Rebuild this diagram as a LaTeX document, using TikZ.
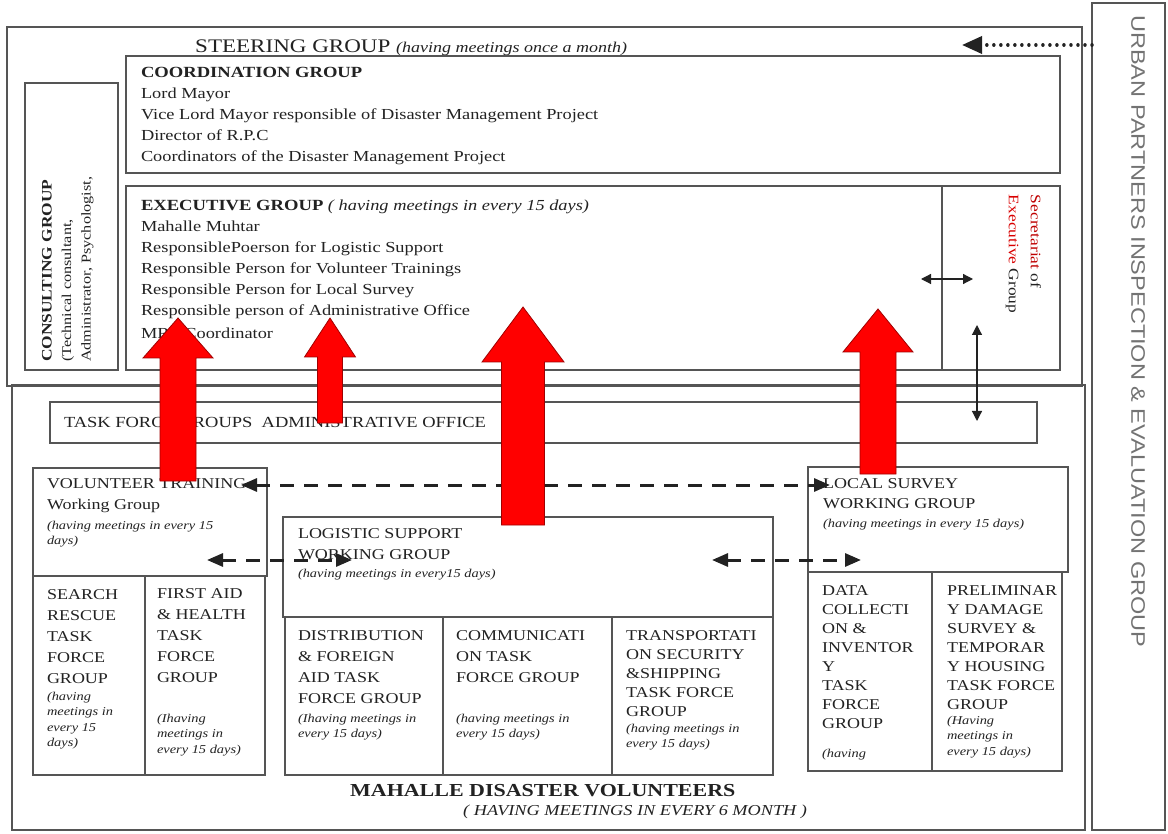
\documentclass[tikz,border=0pt]{standalone}
\usepackage{fontspec}
\setmainfont{Liberation Serif}[FakeStretch=1.2]
\newfontfamily\sansf{Liberation Sans}[FakeStretch=1.2]
\usetikzlibrary{fit,arrows.meta}
\definecolor{ink}{HTML}{222222}
\definecolor{linec}{HTML}{555555}
\definecolor{redline}{HTML}{A00000}
\newcommand\RedUp[6]{%
  \filldraw[redarrow] (#1,#2) -- ({#1+#3},#4) -- ({#1+#5},#4) -- ({#1+#5},#6)
    -- ({#1-#5},#6) -- ({#1-#5},#4) -- ({#1-#3},#4) -- cycle;}
\begin{document}
\begin{tikzpicture}[x=1pt,y=-1pt,
  box/.style={draw=linec, line width=1.5pt, inner sep=0pt, outer sep=0pt},
  txt/.style={anchor=north west, inner sep=0pt, outer sep=0pt, align=left, text=ink},
  fbody/.style={font=\fontsize{15.3}{21}\selectfont},
  fcap/.style={font=\fontsize{15}{21}\selectfont},
  fcapt/.style={font=\fontsize{15}{19}\selectfont},
  fsmall/.style={font=\itshape\fontsize{12}{15.5}\selectfont},
  redarrow/.style={fill=red, draw=redline, line width=0.8pt},
  dasharr/.style={draw=ink, line width=3pt, dash pattern=on 14pt off 10pt,
    {Triangle[length=16pt,width=13pt]}-{Triangle[length=16pt,width=13pt]}},
  thinarr/.style={draw=ink, line width=1.2pt,
    {Triangle[length=10pt,width=10pt]}-{Triangle[length=10pt,width=10pt]}},
]
\useasboundingbox (0,0) rectangle (1168,834);
\fill[white] (0,0) rectangle (1168,834);

% ---------- outer frames ----------
\node[box, fit={(7,27) (1082,386)}] (steer) {};
\node[box, fit={(12,385) (1085,830)}] (mahalle) {};
\node[box, fit={(1092,3) (1165,830)}] (urban) {};
\node[rotate=-90, anchor=west, inner sep=0pt, text=black!55,
      font=\sansf\fontsize{19.6}{19.6}\selectfont] (urbantxt) at (1138,15)
      {URBAN PARTNERS INSPECTION \& EVALUATION GROUP};

% ---------- steering group ----------
\node[anchor=base west, inner sep=0pt, text=ink] (steertxt) at (195,53)
  {\fontsize{19.2}{19.2}\selectfont STEERING GROUP {\itshape\fontsize{15}{15}\selectfont (having meetings once a month)}};

\node[box, fit={(126,56) (1060,173)}] (coord) {};
\node[txt, fbody] (coordtxt) at (141,67)
  {{\bfseries\fontsize{15.5}{21}\selectfont COORDINATION GROUP}\\
   Lord Mayor\\
   Vice Lord Mayor responsible of Disaster Management Project\\
   Director of R.P.C\\
   Coordinators of the Disaster Management Project};

\node[box, fit={(25,83) (118,370)}] (consult) {};
\node[txt, rotate=90, font=\fontsize{13.5}{19.5}\selectfont] (consulttxt) at (42,362)
  {{\bfseries\fontsize{14.5}{19.5}\selectfont CONSULTING GROUP}\\
   (Technical consultant,\\
   Administrator, Psychologist,};

\node[box, fit={(126,186) (942,370)}] (exec) {};
\node[txt, fbody] (exectxt) at (141,200)
  {{\bfseries\fontsize{15.5}{21}\selectfont EXECUTIVE GROUP} {\itshape ( having meetings in every 15 days)}\\
   Mahalle Muhtar\\
   ResponsiblePoerson for Logistic Support\\
   Responsible Person for Volunteer Trainings\\
   Responsible Person for Local Survey\\
   Responsible person of Administrative Office\\[2pt]
   MRP Coordinator};

\node[box, fit={(942,186) (1060,370)}] (secr) {};
\node[txt, rotate=-90, font=\fontsize{14.5}{22}\selectfont] (secrtxt) at (1041,195)
  {{\color{red!75!black}Secretariat} of\\
   {\color{red!85!black}Executive} Group};

% ---------- task force administrative office ----------
\node[box, fit={(50,402) (1037,443)}] (admin) {};
\node[txt, font=\fontsize{15.4}{15.4}\selectfont] (admintxt) at (64,417)
  {TASK FORCE GROUPS\ \ ADMINISTRATIVE OFFICE};

% ---------- volunteer training ----------
\node[box, fit={(33,468) (267,576)}] (volwg) {};
\node[txt, font=\fontsize{15}{21}\selectfont] (volwgtxt) at (47,479)
  {VOLUNTEER TRAINING\\Working Group};
\node[txt, fsmall] (volwgsm) at (47,521)
  {(having meetings in every 15\\days)};

\node[box, fit={(33,576) (145,775)}] (search) {};
\node[txt, fcap] (searchtxt) at (47,590)
  {SEARCH\\RESCUE\\TASK\\FORCE\\GROUP};
\node[txt, fsmall] (searchsm) at (47,692)
  {(having\\meetings in\\every 15\\days)};

\node[box, fit={(145,576) (265,775)}] (firstaid) {};
\node[txt, fcap] (firstaidtxt) at (157,589)
  {FIRST AID\\\& HEALTH\\TASK\\FORCE\\GROUP};
\node[txt, fsmall] (firstaidsm) at (157,714)
  {(Ihaving\\meetings in\\every 15 days)};

% ---------- logistic support ----------
\node[box, fit={(283,517) (773,617)}] (logwg) {};
\node[txt, font=\fontsize{15}{20.5}\selectfont] (logwgtxt) at (298,529)
  {LOGISTIC SUPPORT\\WORKING GROUP};
\node[txt, fsmall] (logwgsm) at (298,569)
  {(having meetings in every15 days)};

\node[box, fit={(285,617) (443,775)}] (distr) {};
\node[txt, fcap] (distrtxt) at (298,631)
  {DISTRIBUTION\\\& FOREIGN\\AID TASK\\FORCE GROUP};
\node[txt, fsmall] (distrsm) at (298,714)
  {(Ihaving meetings in\\every 15 days)};

\node[box, fit={(443,617) (612,775)}] (comm) {};
\node[txt, fcap] (commtxt) at (456,631)
  {COMMUNICATI\\ON TASK\\FORCE GROUP};
\node[txt, fsmall] (commsm) at (456,714)
  {(having meetings in\\every 15 days)};

\node[box, fit={(612,617) (773,775)}] (transp) {};
\node[txt, fcapt] (transptxt) at (626,631)
  {TRANSPORTATI\\ON SECURITY\\\&SHIPPING\\TASK FORCE\\GROUP};
\node[txt, fsmall] (transpsm) at (626,724)
  {(having meetings in\\every 15 days)};

% ---------- local survey ----------
\node[box, fit={(808,467) (1068,572)}] (locwg) {};
\node[txt, font=\fontsize{15}{20}\selectfont] (locwgtxt) at (823,479)
  {LOCAL SURVEY\\WORKING GROUP};
\node[txt, fsmall] (locwgsm) at (823,519)
  {(having meetings in every 15 days)};

\node[box, fit={(808,572) (932,771)}] (data) {};
\node[txt, fcapt] (datatxt) at (822,586)
  {DATA\\COLLECTI\\ON \&\\INVENTOR\\Y\\TASK\\FORCE\\GROUP};
\node[txt, fsmall] (datasm) at (822,749)
  {(having};

\node[box, fit={(932,572) (1062,771)}] (prelim) {};
\node[txt, fcapt] (prelimtxt) at (947,586)
  {PRELIMINAR\\Y DAMAGE\\SURVEY \&\\TEMPORAR\\Y HOUSING\\TASK FORCE\\GROUP};
\node[txt, fsmall] (prelimsm) at (947,716)
  {(Having\\meetings in\\every 15 days)};

% ---------- mahalle title ----------
\node[anchor=base west, inner sep=0pt, text=ink] (mahtitle) at (350,796)
  {\bfseries\fontsize{18.3}{18.3}\selectfont MAHALLE DISASTER VOLUNTEERS};
\node[anchor=base west, inner sep=0pt, text=ink] (mahsub) at (463,815)
  {\itshape\fontsize{15.2}{15.2}\selectfont ( HAVING MEETINGS IN EVERY 6 MONTH )};

% ---------- connectors ----------
\coordinate (dotE) at (962,45);
\draw[draw=ink, line width=3.5pt, line cap=round, dash pattern=on 0.01pt off 7pt,
      -{Triangle[length=20pt,width=17pt]}] (urban.west |- dotE) -- (dotE);

\coordinate (exR) at (921,279);
\coordinate (seL) at (973,279);
\draw[thinarr] (exR) -- (seL);

\coordinate (seB) at (977,325);
\coordinate (adT) at (977,421);
\draw[thinarr] (seB) -- (adT);

\coordinate (vwR) at (241,485);
\coordinate (lsL) at (830,485);
\draw[dasharr] (vwR) -- (lsL);

\coordinate (vwB) at (207,560);
\coordinate (lgL) at (352,560);
\draw[dasharr] (vwB) -- (lgL);

\coordinate (lgR) at (712,560);
\coordinate (lsB) at (861,560);
\draw[dasharr] (lgR) -- (lsB);

% ---------- red block arrows ----------
\RedUp{178}{318}{35}{358}{18}{481}
\RedUp{330}{318}{25.5}{357}{12.5}{423}
\RedUp{523}{307}{41}{362}{21.5}{525}
\RedUp{878}{309}{35}{352}{18}{474}
\end{tikzpicture}
\end{document}
